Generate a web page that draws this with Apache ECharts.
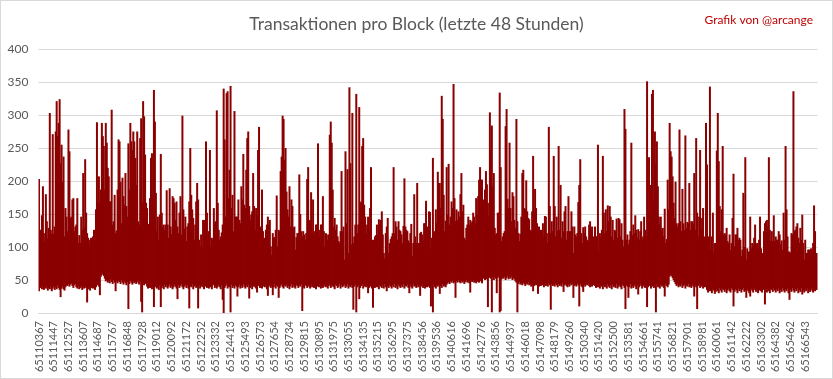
<!DOCTYPE html>
<html>
<head>
<meta charset="utf-8">
<script src="https://cdn.jsdelivr.net/npm/echarts@6/dist/echarts.min.js"></script>
<style>
html,body{margin:0;padding:0;background:#fff;}
#chart{width:833px;height:379px;box-sizing:border-box;border:1px solid #d9d9d9;}
</style>
</head>
<body>
<div id="chart"></div>
<script>
// Tick labels (block numbers shown every 15 buckets, i.e. every ~1080 blocks)
const tickLabels = [
  '65110367','65111447','65112527','65113607','65114687','65115767','65116848','65117928','65119012','65120092',
  '65121172','65122252','65123332','65124413','65125493','65126573','65127654','65128734','65129815','65130895',
  '65131975','65133055','65134135','65135215','65136295','65137375','65138456','65139536','65140616','65141696',
  '65142776','65143856','65144937','65146018','65147098','65148179','65149260','65150340','65151420','65152500',
  '65153581','65154661','65155741','65156821','65157901','65158981','65160061','65161142','65162222','65163302',
  '65164382','65165462','65166543'
];
const labelEvery = 15;

// Highest transaction count per bucket
const highs1 = [
203,126,126,148,192,121,108,180,139,113,
129,303,126,120,271,120,131,275,321,268,
288,324,227,255,199,237,116,159,146,124,
278,245,144,146,172,174,124,131,134,174,
106,118,106,146,126,212,129,233,152,121,
114,104,111,114,109,116,126,106,157,289,
167,207,167,187,288,268,253,187,288,258,
220,207,169,169,308,134,139,179,121,125,
187,263,260,199,136,205,177,164,212,162,
146,257,187,288,260,247,275,260,235,194,
275,139,134,265,295,167,321,298,240,167];
const highs2 = [
159,135,111,174,235,242,174,338,290,182,
124,146,111,149,241,152,131,134,126,134,
186,134,114,189,131,119,177,174,167,141,
169,131,121,152,177,119,299,157,128,146,
109,131,136,169,250,179,157,144,111,134,
169,197,172,111,101,119,98,141,141,104,
260,152,111,124,247,101,114,111,159,136,
139,307,167,126,111,116,122,134,340,263,
146,333,336,174,217,344,159,179,124,306,
146,146,146,172,141,136,192,172,241,164,
159,217,265,275,162,141,149,154,212,162,
126,159,146,247];
const highs3 = [
282,131,121,187,124,109,114,126,134,146,
134,141,101,88,121,114,115,126,178,101,
126,124,215,237,299,294,232,250,184,157,
146,192,131,172,162,129,131,96,115,121,
121,210,150,124,116,124,119,111,121,203,
221,141,139,183,121,172,116,124,134,134,
257,126,116,134,134,177,124,101,121,119,
111,119,270,290,258,187,130,144,126,134,
116,109,106,124,215,124,131,81,245,136,
218,91,342,227,104,303,106,116,134,332,
121,134,312,167,169,253,265,164,146,121,
134,146,126,159];
const highs4 = [
221,91,111,98,116,118,134,118,142,134,
141,154,119,91,83,121,131,144,91,106,
112,116,121,221,121,139,131,111,139,126,
124,119,106,132,204,131,126,124,110,106,
121,135,86,106,180,116,106,197,106,106,
121,123,119,110,136,136,170,131,101,154,
153,96,114,235,121,124,157,136,214,197,
197,159,329,294,179,124,140,221,149,226,
134,146,169,159,347,174,139,157,141,154,
146,180,212,154,164,114,111,129,134,146,
134,141,136,139,152,146,136,174,149,177,
202,221,202,202];
const highs5 = [
172,162,187,215,195,167,146,304,247,284,
192,212,129,119,121,152,152,334,221,109,
116,121,124,283,309,173,159,258,159,139,
183,177,141,129,294,139,121,109,120,146,
212,217,159,157,201,154,144,142,126,124,
154,238,154,188,159,136,121,131,93,126,
121,136,116,147,146,121,106,282,162,121,
139,124,238,162,116,146,125,253,126,194,
114,139,124,154,162,111,124,177,124,124,
154,131,91,131,119,116,121,168,194,233,
121,106,130,121,131,116,111,109,134,139,
126,131,109,116];
const highs6 = [
131,116,116,255,93,121,114,126,238,152,
121,157,124,163,139,162,146,116,141,111,
126,124,143,114,144,142,116,136,111,101,
309,279,111,119,104,111,124,258,118,134,
121,148,126,114,127,111,124,139,111,116,
146,126,116,351,152,236,194,139,332,338,
172,275,225,260,192,146,134,146,126,129,
116,158,106,112,202,157,288,245,237,207,
167,144,199,136,131,136,278,139,124,188,
136,126,269,129,138,136,197,126,139,139,
136,212,126,265,152,116,146,247,126,144,
159,116,111,288];
const highs7 = [
225,106,116,343,96,116,152,93,106,106,
246,303,230,162,124,157,253,119,121,119,
129,109,106,119,96,106,144,211,101,119,
119,129,111,114,111,86,96,182,100,236,
81,98,93,93,146,98,106,104,114,134,
104,106,96,111,146,98,91,76,124,136,
139,141,131,236,126,109,124,109,148,109,
116,111,111,124,119,104,110,96,152,111,
253,157,116,93,93,91,121,119,336,124,
126,131,136,114,106,129,111,149,106,81,
111,91,91,96,96,96,98,96,106,163,
124,83,91];

// Lowest transaction count per bucket
const lows1 = [
33,38,40,36,42,35,39,37,41,34,
38,36,40,33,37,41,35,39,36,42,
38,35,24,37,40,36,34,39,42,41,
44,40,43,45,41,38,42,44,39,37,
40,36,38,41,35,39,37,40,38,16,
36,39,34,38,40,37,41,35,39,42,
44,40,27,55,58,60,56,52,48,50,
46,49,45,51,47,44,50,46,33,48,
45,49,47,44,50,46,43,48,45,42,
47,6,44,49,46,43,48,45,47,44,
49,46,43,48,17,1,45,42,47,44];
const lows2 = [
40,37,42,38,44,36,41,9,39,43,
37,40,35,42,9,38,41,36,43,39,
42,37,40,44,38,41,36,39,43,40,
37,21,42,38,41,44,39,36,40,43,
38,42,37,7,41,39,44,36,40,42,
38,41,7,43,37,40,44,39,36,42,
40,38,43,37,41,39,36,42,44,38,
41,37,40,43,39,36,42,20,0,38,
41,44,37,40,39,1,43,38,41,37,
42,40,25,39,43,37,41,38,44,40,
37,42,39,43,22,38,41,36,40,43,
39,37,31,42];
const lows3 = [
41,38,43,37,40,44,39,42,36,26,
40,43,38,41,27,39,44,37,42,40,
23,38,41,44,39,37,42,40,43,38,
41,36,40,44,38,42,39,37,43,41,
38,42,40,44,3,39,37,43,41,38,
42,40,37,44,39,41,38,43,36,40,
42,39,44,37,41,38,40,43,39,42,
37,41,44,38,40,42,39,36,43,41,
38,40,44,37,42,39,41,43,38,40,
44,37,41,39,42,38,5,40,43,1,
39,42,21,38,41,44,37,40,43,39,
41,30,38,42];
const lows4 = [
40,37,8,42,38,44,39,41,36,43,
40,38,42,37,44,39,33,41,38,43,
40,37,42,39,44,38,41,36,43,40,
38,42,39,44,37,41,40,43,38,30,
42,39,37,44,40,41,38,43,39,42,
26,40,44,38,41,37,43,39,42,40,
38,10,41,1,44,39,37,42,40,43,
29,41,38,44,40,42,39,43,45,47,
44,48,46,49,45,47,23,48,46,50,
47,45,49,46,48,44,47,50,46,48,
45,31,49,47,50,46,48,45,49,47,
46,50,48,45];
const lows5 = [
52,55,50,54,51,9,53,56,52,1,
54,50,55,52,30,53,56,1,3,51,
54,52,55,50,53,56,51,54,52,55,
50,53,51,48,46,1,44,47,43,45,
42,46,44,41,45,43,47,42,44,40,
43,33,41,45,42,44,29,40,43,41,
45,42,39,44,41,43,40,45,42,5,
44,41,43,40,45,42,39,44,41,43,
40,45,32,42,44,41,39,43,40,45,
42,44,23,41,43,40,45,42,10,44,
41,39,32,43,40,45,42,44,41,39,
43,40,45,42];
const lows6 = [
41,38,43,39,44,37,42,40,36,43,
39,41,37,44,40,38,42,36,43,39,
41,38,44,37,40,42,39,36,43,41,
38,6,42,40,23,39,44,37,41,38,
43,40,36,42,28,39,44,41,37,43,
40,38,42,9,39,44,41,37,43,40,
38,42,1,44,39,41,37,43,40,42,
38,25,44,41,39,43,55,58,56,53,
50,47,44,41,43,39,42,40,44,38,
41,43,37,42,40,44,39,41,38,43,
40,25,42,39,6,41,44,38,40,43,
37,41,39,42];
const lows7 = [
35,31,38,33,36,30,37,34,29,32,
36,33,30,38,34,31,37,35,32,36,
30,34,37,33,31,38,35,10,32,36,
34,30,37,33,36,31,35,38,32,34,
23,36,33,30,25,37,34,31,38,35,
32,36,30,34,37,33,31,35,38,13,
34,31,36,33,30,37,35,32,38,34,
31,36,33,37,30,35,32,38,34,31,
36,33,37,30,20,35,32,38,34,31,
36,33,37,30,35,32,38,28,34,31,
36,33,37,30,35,32,38,34,31,36,
33,37,35];

const highs = [].concat(highs1, highs2, highs3, highs4, highs5, highs6, highs7);
const lows = [].concat(lows1, lows2, lows3, lows4, lows5, lows6, lows7);

const categories = highs.map((_, i) => (i % labelEvery === 0 && tickLabels[i / labelEvery]) ? tickLabels[i / labelEvery] : '');
const spans = highs.map((h, i) => h - lows[i]);

const chart = echarts.init(document.getElementById('chart'), null, {renderer: 'canvas'});
const FONT = 'Lato';
chart.setOption({
  animation: false,
  backgroundColor: '#fff',
  textStyle: {fontFamily: FONT},
  title: [
    {text: 'Transaktionen pro Block (letzte 48 Stunden)', left: 'center', top: 9,
     textStyle: {fontFamily: FONT, fontSize: 17.5, fontWeight: 'normal', color: '#595959'}},
    {text: 'Grafik von @arcange', right: 14, top: 8,
     textStyle: {fontFamily: FONT, fontSize: 12, fontWeight: 'normal', color: '#C00000'}}
  ],
  grid: {left: 37.5, right: 14.5, top: 48, bottom: 65, containLabel: false},
  xAxis: {
    type: 'category',
    data: categories,
    boundaryGap: true,
    axisLine: {show: true, lineStyle: {color: '#d9d9d9', width: 1}},
    axisTick: {show: false},
    axisLabel: {interval: labelEvery - 1, rotate: 90, margin: 8, fontSize: 11, color: '#595959', fontFamily: FONT},
    splitLine: {show: false}
  },
  yAxis: {
    type: 'value', min: 0, max: 400, interval: 50,
    axisLine: {show: false}, axisTick: {show: false},
    axisLabel: {fontSize: 12, color: '#595959', margin: 10, fontFamily: FONT},
    splitLine: {lineStyle: {color: '#d9d9d9', width: 1}}
  },
  series: [
    {type: 'bar', stack: 'tx', data: lows, barWidth: 2, silent: true,
     itemStyle: {color: 'rgba(0,0,0,0)'}},
    {type: 'bar', stack: 'tx', data: spans, barWidth: 2, silent: true,
     itemStyle: {color: '#8B0000'}}
  ]
});
</script>
</body>
</html>
